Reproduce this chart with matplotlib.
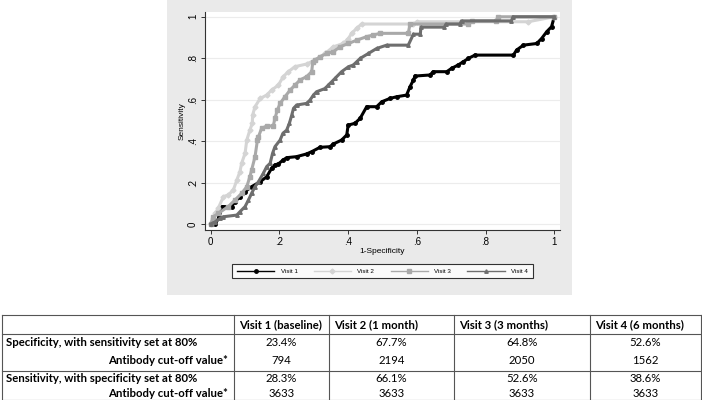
import matplotlib
matplotlib.use("Agg")
import matplotlib.pyplot as plt
from matplotlib.patches import Rectangle
from matplotlib.lines import Line2D

# ROC points (1-specificity, sensitivity)
visit1_fpr = [0, 0.013, 0.025, 0.032, 0.061, 0.07, 0.085, 0.10, 0.119, 0.144, 0.163, 0.177, 0.187,
              0.197, 0.211, 0.221, 0.25, 0.279, 0.294, 0.318, 0.347, 0.357, 0.381, 0.396, 0.40,
              0.42, 0.435, 0.454, 0.483, 0.498, 0.522, 0.541, 0.57, 0.58, 0.59, 0.595, 0.638,
              0.648, 0.687, 0.701, 0.72, 0.735, 0.75, 0.769, 0.881, 0.89, 0.91, 0.949, 0.963,
              0.978, 0.992, 1.0]
visit1_tpr = [0, 0, 0.035, 0.084, 0.084, 0.108, 0.13, 0.156, 0.18, 0.204, 0.228, 0.268, 0.285,
              0.29, 0.309, 0.32, 0.325, 0.338, 0.349, 0.37, 0.373, 0.386, 0.405, 0.43, 0.477,
              0.486, 0.51, 0.566, 0.566, 0.59, 0.606, 0.614, 0.622, 0.662, 0.695, 0.714, 0.719,
              0.735, 0.735, 0.751, 0.767, 0.783, 0.799, 0.815, 0.815, 0.839, 0.863, 0.871, 0.895,
              0.928, 0.952, 1.0]

visit2_fpr = [0, 0.006, 0.013, 0.022, 0.037, 0.051, 0.066, 0.076, 0.085, 0.09, 0.10, 0.105,
              0.114, 0.121, 0.122, 0.129, 0.144, 0.163, 0.177, 0.197, 0.211, 0.226, 0.245,
              0.279, 0.304, 0.333, 0.357, 0.386, 0.401, 0.41, 0.425, 0.439, 0.59, 0.60, 0.924, 1.0]
visit2_tpr = [0, 0.027, 0.051, 0.076, 0.132, 0.14, 0.164, 0.212, 0.252, 0.293, 0.341, 0.405,
              0.453, 0.486, 0.526, 0.566, 0.606, 0.622, 0.646, 0.67, 0.711, 0.735, 0.759,
              0.772, 0.791, 0.823, 0.855, 0.871, 0.895, 0.92, 0.944, 0.965, 0.965, 0.976, 0.976, 1.0]

visit3_fpr = [0, 0.008, 0.022, 0.051, 0.071, 0.09, 0.105, 0.114, 0.119, 0.129, 0.136, 0.139,
              0.148, 0.163, 0.182, 0.187, 0.194, 0.202, 0.216, 0.231, 0.245, 0.26, 0.279, 0.294,
              0.297, 0.304, 0.318, 0.338, 0.357, 0.376, 0.401, 0.425, 0.454, 0.473, 0.493, 0.575,
              0.58, 0.75, 0.76, 0.83, 0.837, 1.0]
visit3_tpr = [0, 0.035, 0.051, 0.084, 0.116, 0.148, 0.18, 0.228, 0.26, 0.325, 0.405, 0.421,
              0.461, 0.473, 0.473, 0.51, 0.55, 0.582, 0.614, 0.646, 0.67, 0.695, 0.711, 0.735,
              0.783, 0.791, 0.807, 0.823, 0.831, 0.855, 0.871, 0.887, 0.904, 0.912, 0.92, 0.92,
              0.965, 0.965, 0.98, 0.98, 1.0, 1.0]

visit4_fpr = [0, 0.013, 0.027, 0.037, 0.076, 0.085, 0.10, 0.11, 0.119, 0.129, 0.139, 0.153,
              0.163, 0.173, 0.18, 0.187, 0.202, 0.21, 0.221, 0.229, 0.236, 0.241, 0.25, 0.279,
              0.289, 0.299, 0.308, 0.333, 0.342, 0.352, 0.362, 0.381, 0.401, 0.415, 0.425, 0.435,
              0.459, 0.483, 0.512, 0.575, 0.59, 0.61, 0.612, 0.68, 0.685, 0.725, 0.73, 0.875,
              0.88, 1.0]
visit4_tpr = [0, 0.011, 0.027, 0.035, 0.043, 0.059, 0.084, 0.116, 0.148, 0.18, 0.204, 0.244,
              0.277, 0.293, 0.341, 0.373, 0.405, 0.437, 0.453, 0.486, 0.526, 0.558, 0.574, 0.582,
              0.598, 0.622, 0.638, 0.654, 0.67, 0.686, 0.703, 0.735, 0.759, 0.767, 0.783, 0.799,
              0.823, 0.847, 0.863, 0.863, 0.916, 0.916, 0.95, 0.95, 0.965, 0.965, 0.98, 0.98,
              1.0, 1.0]

series_labels = ["Visit 1", "Visit 2", "Visit 3", "Visit 4"]

# table contents
col_headers = ["Visit 1 (baseline)", "Visit 2 (1 month)", "Visit 3 (3 months)", "Visit 4 (6 months)"]
row_labels = ["Specificity, with sensitivity set at 80%", "Antibody cut-off value*",
              "Sensitivity, with specificity set at 80%", "Antibody cut-off value*"]
table_values = [["23.4%", "67.7%", "64.8%", "52.6%"],
                ["794", "2194", "2050", "1562"],
                ["28.3%", "66.1%", "52.6%", "38.6%"],
                ["3633", "3633", "3633", "3633"]]

W, H = 702, 400
fig = plt.figure(figsize=(W / 100, H / 100), dpi=100)

# stata-like gray graph region
fig.patches.append(Rectangle((167 / W, 1 - 295 / H), (572 - 167) / W, 295 / H,
                             transform=fig.transFigure, facecolor="#eaeaea",
                             edgecolor="none", zorder=-10))

ax = fig.add_axes([205 / W, 1 - 230 / H, 355 / W, 218 / H])
ax.set_facecolor("white")
ax.set_xlim(-0.0166, 1.0166)
ax.set_ylim(-0.029, 1.023)

styles = [
    dict(color="black", marker="o"),
    dict(color="#d4d4d4", marker="D"),
    dict(color="#a9a9a9", marker="s"),
    dict(color="#6e6e6e", marker="^"),
]
data = [(visit1_fpr, visit1_tpr), (visit2_fpr, visit2_tpr),
        (visit3_fpr, visit3_tpr), (visit4_fpr, visit4_tpr)]
for (fx, ty), st in zip(data, styles):
    ax.plot(fx, ty, color=st["color"], lw=2.2, marker=st["marker"], ms=2.5,
            mec=st["color"], mfc=st["color"], solid_joinstyle="miter", zorder=3)

ticks = [0, 0.2, 0.4, 0.6, 0.8, 1]
tick_txt = ["0", ".2", ".4", ".6", ".8", "1"]
ax.set_xticks(ticks)
ax.set_xticklabels(tick_txt, fontsize=7, family="Liberation Sans")
ax.set_yticks(ticks)
ax.set_yticklabels(tick_txt, fontsize=7, family="Liberation Sans", rotation=90, va="center")
ax.grid(axis="y", color="#ececec", lw=0.8)
ax.set_axisbelow(True)
for s in ["top", "right"]:
    ax.spines[s].set_visible(False)
for s in ["left", "bottom"]:
    ax.spines[s].set_color("#333333")
    ax.spines[s].set_linewidth(0.8)
ax.tick_params(length=3, width=0.7, color="#333333", pad=2)
ax.set_xlabel("1-Specificity", fontsize=6, family="Liberation Sans", labelpad=1)
ax.set_ylabel("Sensitivity", fontsize=6, family="Liberation Sans", labelpad=2)

handles = [Line2D([0], [0], color=st["color"], lw=1, marker=st["marker"], ms=2.5,
                  mfc=st["color"], mec=st["color"]) for st in styles]
leg = fig.legend(handles, series_labels, loc="center", bbox_to_anchor=(382.5 / W, 1 - 271 / H),
                 ncol=4, frameon=True, fancybox=False, handlelength=6,
                 columnspacing=2.6, borderpad=0.7, handletextpad=1.0,
                 prop={"family": "Liberation Sans", "size": 4.5})
leg.get_frame().set_edgecolor("black")
leg.get_frame().set_linewidth(0.8)

# table
col_x = [2, 234, 329, 454, 590, 701]
row_y = [315, 334, 352, 370.5, 388, 399.5]
line_rows = [0, 1, 3, 5]
for i in line_rows:
    fig.add_artist(Line2D([col_x[0] / W, col_x[-1] / W], [1 - row_y[i] / H] * 2,
                          color="#555555", lw=0.8))
for x in col_x:
    fig.add_artist(Line2D([x / W] * 2, [1 - row_y[0] / H, 1 - row_y[-1] / H],
                          color="#555555", lw=0.8))

tfont = dict(family="Lato", fontsize=8.2)
centers = [324.5, 342.5, 361, 379, 393.5]
for j, h in enumerate(col_headers):
    fig.text((col_x[j + 1] + 5) / W, 1 - centers[0] / H, h, ha="left", va="center",
             weight="bold", **tfont)
for i, lab in enumerate(row_labels):
    if i % 2 == 0:
        fig.text(6 / W, 1 - centers[i + 1] / H, lab, ha="left", va="center",
                 weight="bold", **tfont)
    else:
        fig.text(228 / W, 1 - centers[i + 1] / H, lab, ha="right", va="center",
                 weight="bold", **tfont)
    for j, v in enumerate(table_values[i]):
        cx = (col_x[j + 1] + col_x[j + 2]) / 2
        fig.text(cx / W, 1 - centers[i + 1] / H, v, ha="center", va="center", **tfont)

fig.savefig("out.png", dpi=100)
